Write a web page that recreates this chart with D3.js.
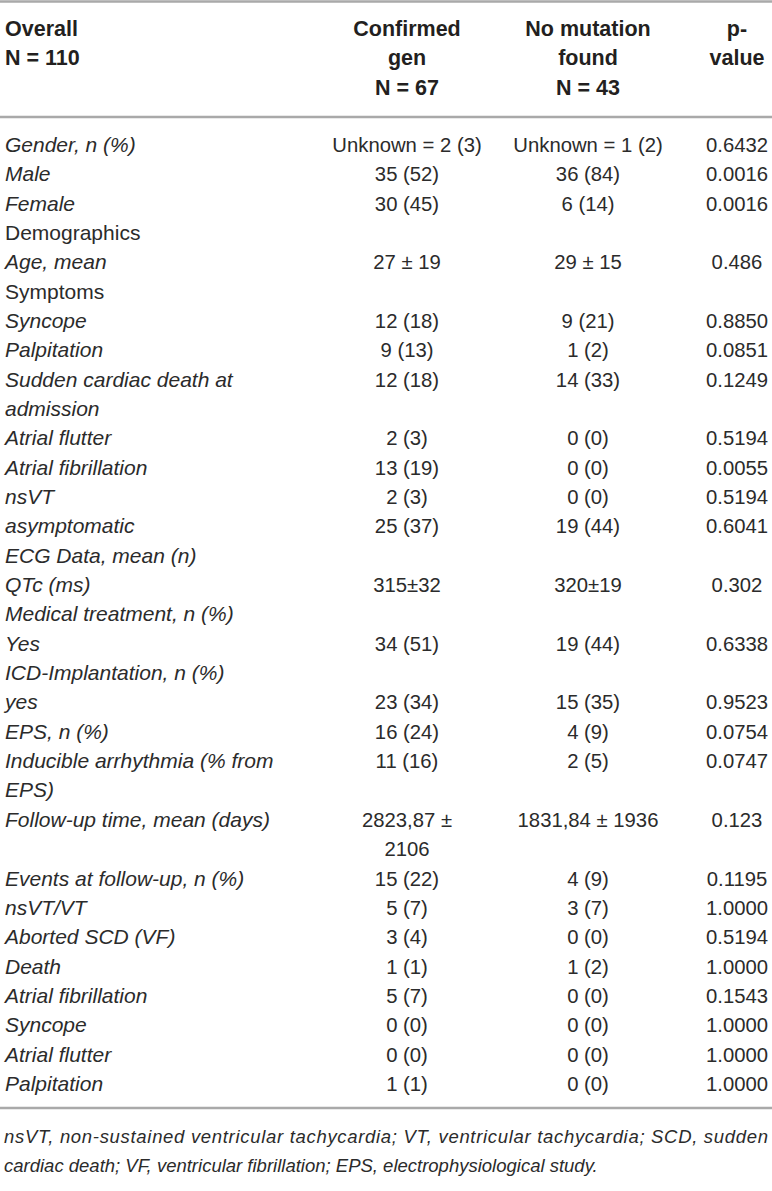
<!DOCTYPE html>
<html>
<head>
<meta charset="utf-8">
<script src="https://cdn.jsdelivr.net/npm/d3@7"></script>
<style>
  html, body { margin: 0; padding: 0; background: #fff; }
  svg { display: block; }
  text { font-family: "Liberation Sans", Arial, Helvetica, sans-serif; fill: #2b2b2b; }
</style>
</head>
<body>
<svg id="chart"></svg>
<script>
// header cells, one string per column ("\n" = line break)
var headers = ["Overall\nN = 110", "Confirmed\ngen\nN = 67", "No mutation\nfound\nN = 43", "p-\nvalue"];

// row labels and column values
var labels = [
  "Gender, n (%)", "Male", "Female", "Demographics", "Age, mean", "Symptoms",
  "Syncope", "Palpitation", "Sudden cardiac death at\nadmission", "Atrial flutter",
  "Atrial fibrillation", "nsVT", "asymptomatic", "ECG Data, mean (n)", "QTc (ms)",
  "Medical treatment, n (%)", "Yes", "ICD-Implantation, n (%)", "yes", "EPS, n (%)",
  "Inducible arrhythmia (% from\nEPS)", "Follow-up time, mean (days)", "Events at follow-up, n (%)",
  "nsVT/VT", "Aborted SCD (VF)", "Death", "Atrial fibrillation", "Syncope", "Atrial flutter", "Palpitation"
];
var confirmedGen = [
  "Unknown = 2 (3)", "35 (52)", "30 (45)", "", "27 ± 19", "",
  "12 (18)", "9 (13)", "12 (18)", "2 (3)",
  "13 (19)", "2 (3)", "25 (37)", "", "315±32",
  "", "34 (51)", "", "23 (34)", "16 (24)",
  "11 (16)", "2823,87 ±\n2106", "15 (22)",
  "5 (7)", "3 (4)", "1 (1)", "5 (7)", "0 (0)", "0 (0)", "1 (1)"
];
var noMutation = [
  "Unknown = 1 (2)", "36 (84)", "6 (14)", "", "29 ± 15", "",
  "9 (21)", "1 (2)", "14 (33)", "0 (0)",
  "0 (0)", "0 (0)", "19 (44)", "", "320±19",
  "", "19 (44)", "", "15 (35)", "4 (9)",
  "2 (5)", "1831,84 ± 1936", "4 (9)",
  "3 (7)", "0 (0)", "1 (2)", "0 (0)", "0 (0)", "0 (0)", "0 (0)"
];
var pValues = [
  "0.6432", "0.0016", "0.0016", "", "0.486", "",
  "0.8850", "0.0851", "0.1249", "0.5194",
  "0.0055", "0.5194", "0.6041", "", "0.302",
  "", "0.6338", "", "0.9523", "0.0754",
  "0.0747", "0.123", "0.1195",
  "1.0000", "0.5194", "1.0000", "0.1543", "1.0000", "1.0000", "1.0000"
];
var uprightLabels = ["Demographics", "Symptoms"];
var footnote = [
  "nsVT, non-sustained ventricular tachycardia; VT, ventricular tachycardia; SCD, sudden",
  "cardiac death; VF, ventricular fibrillation; EPS, electrophysiological study."
];

var W = 772, H = 1191;
var lineH = 29.34;
var svg = d3.select("#chart").attr("width", W).attr("height", H);

// column positions
var colX = d3.scaleOrdinal().domain([0, 1, 2, 3]).range([5, 407, 588, 737]);
var colAnchor = function(i){ return i === 0 ? "start" : "middle"; };
var colSize = function(i){ return i === 0 ? 21 : 20.3; };

// line index -> baseline
var headY = d3.scaleLinear().domain([0, 1]).range([36, 36 + lineH]);
var bodyY = d3.scaleLinear().domain([0, 1]).range([152, 152 + lineH]);

function lines(s){ return s === "" ? [] : s.split("\n"); }

// rules
var rules = [1.5, 117, 1108];
svg.selectAll("line.rule").data(rules).enter().append("line")
    .attr("class", "rule")
    .attr("x1", 0).attr("x2", W)
    .attr("y1", function(d){ return d; }).attr("y2", function(d){ return d; })
    .attr("stroke", "#a9a9a9").attr("stroke-width", 2.5);

// header
var head = svg.append("g").attr("class", "head");
headers.forEach(function(h, ci){
  head.selectAll("text.h" + ci).data(lines(h)).enter().append("text")
      .attr("class", "h" + ci)
      .attr("x", colX(ci))
      .attr("y", function(d, li){ return headY(li); })
      .attr("text-anchor", colAnchor(ci))
      .attr("font-size", 21.5)
      .attr("font-weight", "bold")
      .style("fill", "#231f20")
      .text(function(d){ return d; });
});

// body rows
var rows = [], offset = 0;
labels.forEach(function(lab, i){
  var cells = [lab, confirmedGen[i], noMutation[i], pValues[i]];
  var span = d3.max(cells, function(c){ return Math.max(1, lines(c).length); });
  rows.push({ idx: i, start: offset, cells: cells, upright: uprightLabels.indexOf(lab) >= 0 });
  offset += span;
});

var body = svg.append("g").attr("class", "body");
var rowG = body.selectAll("g.row").data(rows).enter().append("g").attr("class", "row");
rowG.each(function(r){
  var g = d3.select(this);
  r.cells.forEach(function(c, ci){
    g.selectAll("text.c" + ci).data(lines(c)).enter().append("text")
        .attr("class", "c" + ci)
        .attr("x", colX(ci))
        .attr("y", function(d, li){ return bodyY(r.start + li); })
        .attr("text-anchor", colAnchor(ci))
        .attr("font-size", colSize(ci))
        .attr("font-style", (ci === 0 && !r.upright) ? "italic" : "normal")
        .text(function(d){ return d; });
  });
});

// footnote
svg.selectAll("text.foot").data(footnote).enter().append("text")
    .attr("class", "foot")
    .attr("x", 4)
    .attr("y", function(d, i){ return 1143 + i * 29; })
    .attr("font-size", 18.5)
    .attr("font-style", "italic")
    .attr("textLength", function(d, i){ return i === 0 ? 764 : null; })
    .attr("lengthAdjust", "spacing")
    .text(function(d){ return d; });
</script>
</body>
</html>
